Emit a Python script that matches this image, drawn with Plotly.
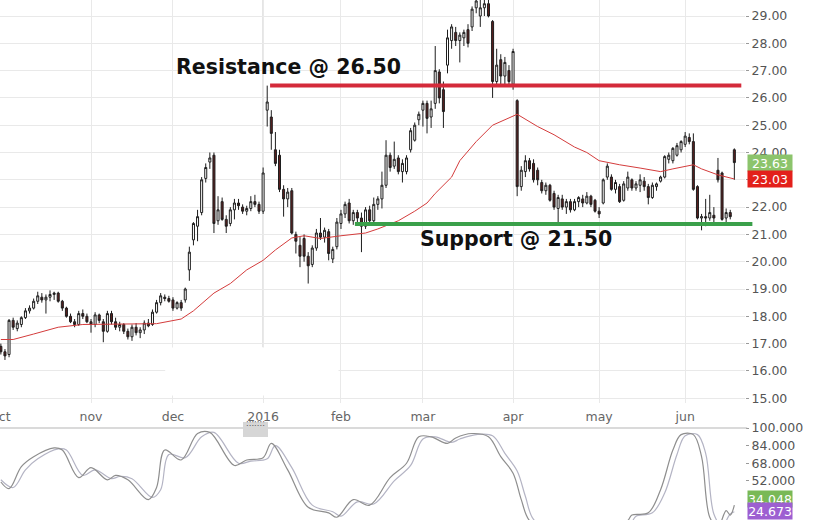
import plotly.graph_objects as go

# ---------------- data (trading-day index 0 = 1 Oct 2015) ----------------
open_ = [16.9, 16.7, 16.6, 17.85, 17.55, 17.7, 17.95, 18.2, 18.3, 18.55,
         18.7, 18.6, 18.7, 18.8, 18.85, 18.55, 18.3, 18.0, 17.8, 17.7,
         18.1, 18.0, 17.8, 17.7, 18.05, 17.8, 17.45, 18.1, 17.8, 17.6,
         17.7, 17.45, 17.25, 17.6, 17.4, 17.5, 17.75, 17.7, 18.15, 18.5,
         18.7, 18.65, 18.6, 18.3, 18.5, 18.6, 19.7, 20.8, 21.3, 21.8,
         23.05, 23.65, 23.9, 21.5, 22.2, 21.55, 21.4, 21.9, 22.15, 22.0,
         21.85, 21.95, 22.2, 22.1, 21.85, 25.55, 25.3, 24.1, 23.9, 22.65,
         22.3, 22.6, 21.0, 20.6, 20.85, 20.2, 19.9, 20.5, 21.05, 20.9,
         21.1, 20.1, 20.55, 21.4, 21.75, 22.15, 21.5, 21.8, 21.6, 21.3,
         21.9, 21.5, 22.1, 22.3, 22.8, 23.9, 23.5, 23.8, 23.3, 23.3,
         24.1, 24.45, 25.2, 25.55, 25.8, 25.3, 25.8, 26.95, 26.3, 27.2,
         28.1, 28.4, 28.1, 28.2, 28.5, 28.6, 29.3, 29.0, 29.3, 29.45,
         28.8, 26.6, 27.4, 26.8, 27.0, 26.5, 25.9, 22.75, 23.3, 23.7,
         23.6, 23.35, 22.9, 22.6, 22.8, 22.5, 21.95, 22.3, 22.0, 22.2,
         21.9, 22.2, 22.3, 22.15, 22.4, 22.25, 21.85, 22.15, 23.1, 23.1,
         22.65, 22.75, 22.25, 22.7, 23.0, 22.7, 22.8, 22.95, 22.75, 22.35,
         22.75, 22.95, 23.1, 23.75, 23.7, 23.9, 24.1, 24.3, 24.55, 24.4,
         22.75, 21.6, 21.65, 21.6, 21.7, 23.35, 23.25, 21.6, 21.8, 24.1]
high = [17.0, 16.8, 17.9, 17.95, 17.85, 18.0, 18.3, 18.4, 18.65, 18.9,
        18.85, 18.8, 18.95, 18.9, 18.9, 18.6, 18.35, 18.1, 17.9, 18.2,
        18.25, 18.1, 17.9, 18.15, 18.1, 17.9, 18.2, 18.2, 17.95, 17.8,
        17.75, 17.55, 17.7, 17.75, 17.6, 17.85, 17.9, 18.25, 18.6, 18.85,
        18.8, 18.75, 18.7, 18.55, 18.6, 19.05, 20.55, 21.45, 21.9, 23.1,
        23.6, 24.0, 24.0, 22.4, 22.35, 21.7, 22.0, 22.3, 22.3, 22.1,
        22.05, 22.4, 22.45, 22.2, 23.45, 26.45, 25.55, 24.75, 24.1, 22.8,
        22.7, 22.7, 21.1, 20.9, 21.0, 20.35, 20.6, 21.2, 21.6, 21.25,
        21.2, 20.55, 21.6, 21.9, 22.2, 22.3, 21.9, 21.9, 21.8, 22.0,
        22.05, 22.35, 22.4, 23.3, 24.45, 24.0, 24.4, 23.9, 23.75, 23.9,
        24.9, 25.1, 25.5, 25.9, 25.9, 25.9, 27.9, 27.05, 26.6, 28.5,
        28.7, 28.6, 28.4, 28.5, 28.7, 29.35, 29.7, 29.6, 29.6, 29.6,
        28.85, 27.8, 27.6, 27.5, 27.2, 27.8, 25.95, 23.5, 23.9, 23.8,
        23.75, 23.45, 23.0, 22.9, 22.85, 22.6, 22.45, 22.45, 22.3, 22.3,
        22.3, 22.4, 22.45, 22.55, 22.45, 22.3, 22.0, 23.05, 23.6, 23.2,
        23.0, 22.85, 22.95, 23.3, 23.05, 22.95, 23.2, 23.1, 22.85, 22.9,
        22.9, 23.15, 23.9, 24.0, 24.2, 24.35, 24.45, 24.75, 24.7, 24.7,
        22.8, 21.75, 22.3, 22.45, 22.0, 23.8, 23.3, 21.95, 21.9, 24.15]
low = [16.6, 16.4, 16.5, 17.5, 17.45, 17.6, 17.9, 18.1, 18.25, 18.45,
       18.5, 18.1, 18.55, 18.6, 18.5, 18.2, 17.95, 17.75, 17.6, 17.65,
       17.9, 17.75, 17.4, 17.6, 17.75, 17.05, 17.4, 17.7, 17.5, 17.45,
       17.35, 17.15, 17.1, 17.3, 17.2, 17.35, 17.6, 17.65, 18.1, 18.4,
       18.55, 18.5, 18.2, 18.25, 18.2, 18.5, 19.3, 20.6, 20.75, 21.7,
       22.9, 23.4, 21.05, 21.35, 21.5, 21.05, 21.3, 21.55, 21.9, 21.75,
       21.7, 21.85, 22.0, 21.75, 21.75, 24.95, 24.1, 23.5, 22.55, 21.65,
       22.0, 21.0, 20.3, 19.8, 20.0, 19.2, 19.8, 20.4, 20.8, 20.7,
       20.05, 19.95, 20.45, 21.2, 21.6, 21.4, 21.35, 21.45, 20.35, 21.2,
       21.35, 21.45, 21.9, 21.95, 22.7, 23.3, 23.4, 23.2, 22.9, 23.2,
       24.0, 24.4, 25.0, 24.95, 24.7, 24.9, 25.6, 25.8, 24.9, 26.9,
       27.8, 27.9, 27.3, 27.9, 27.85, 28.45, 29.1, 28.6, 29.0, 28.95,
       26.0, 26.4, 26.4, 26.5, 26.4, 26.3, 22.4, 22.6, 23.1, 23.3,
       22.9, 22.8, 22.5, 22.45, 22.2, 21.9, 21.45, 21.9, 21.75, 21.8,
       21.85, 22.0, 22.0, 22.1, 22.0, 21.8, 21.6, 22.1, 23.0, 22.6,
       22.5, 22.15, 22.2, 22.6, 22.6, 22.6, 22.55, 22.6, 22.1, 22.3,
       22.6, 22.9, 23.05, 23.6, 23.6, 23.85, 24.0, 24.2, 24.3, 22.6,
       21.55, 21.15, 21.3, 21.5, 21.45, 22.9, 21.5, 21.45, 21.55, 23.0]
close = [16.7, 16.55, 17.85, 17.6, 17.75, 17.95, 18.2, 18.3, 18.55, 18.75,
         18.6, 18.7, 18.8, 18.85, 18.55, 18.3, 18.0, 17.8, 17.7, 18.1,
         18.0, 17.8, 17.7, 18.05, 17.85, 17.45, 18.1, 17.8, 17.6, 17.7,
         17.45, 17.25, 17.6, 17.4, 17.5, 17.75, 17.65, 18.15, 18.5, 18.75,
         18.65, 18.55, 18.3, 18.5, 18.3, 19.0, 20.35, 21.4, 21.65, 23.0,
         23.45, 23.8, 21.4, 21.9, 21.55, 21.3, 21.9, 22.15, 22.05, 21.85,
         21.95, 22.2, 22.1, 21.85, 23.25, 25.85, 24.7, 23.6, 22.65, 22.3,
         22.55, 21.05, 20.75, 20.2, 20.2, 19.85, 20.5, 21.05, 20.9, 21.15,
         20.3, 20.45, 21.45, 21.75, 22.1, 21.5, 21.8, 21.6, 21.3, 21.9,
         21.5, 22.1, 22.3, 22.8, 23.9, 23.45, 23.75, 23.3, 23.6, 23.8,
         24.8, 25.0, 25.4, 25.8, 25.25, 25.6, 27.0, 26.0, 25.5, 28.2,
         28.6, 28.1, 28.3, 28.4, 28.0, 29.25, 29.55, 29.3, 29.45, 29.0,
         26.6, 27.2, 26.8, 27.3, 26.6, 27.7, 22.75, 23.35, 23.7, 23.4,
         23.0, 23.0, 22.6, 22.8, 22.25, 22.0, 22.35, 22.0, 22.2, 21.9,
         22.2, 22.35, 22.15, 22.4, 22.1, 21.85, 21.75, 23.0, 23.5, 22.65,
         22.9, 22.2, 22.85, 23.1, 22.7, 22.85, 23.0, 22.75, 22.35, 22.8,
         22.85, 23.1, 23.85, 23.9, 24.15, 24.25, 24.4, 24.6, 24.4, 22.65,
         21.6, 21.65, 21.6, 21.8, 21.6, 23.0, 21.55, 21.8, 21.65, 23.63]
bar_index = list(range(len(close)))

month_ticks = [0, 22, 42, 64, 83, 103, 125, 146, 167]
month_labels = ["oct", "nov", "dec", "2016", "feb", "mar", "apr", "may", "jun"]

ma_idx = [0, 3, 8, 14, 20, 30, 38, 44, 47, 52, 56, 60, 64, 67, 71, 74, 78, 83,
          89, 92, 97, 101, 104, 106, 110, 112, 116, 120, 126, 131, 135, 140,
          143, 146, 151, 156, 161, 164, 169, 171, 175, 179]
ma_val = [17.15, 17.15, 17.35, 17.6, 17.7, 17.72, 17.73, 17.9, 18.2, 18.85,
          19.2, 19.7, 20.05, 20.43, 20.87, 20.95, 20.85, 20.95, 21.05, 21.2,
          21.5, 21.85, 22.15, 22.5, 23.1, 23.7, 24.4, 25.0, 25.4, 24.95,
          24.65, 24.2, 24.0, 23.7, 23.55, 23.43, 23.3, 23.4, 23.55, 23.4,
          23.18, 23.03]

stoch_k_idx = [0, 2, 5, 8, 13, 15, 19, 22, 26, 28, 31, 36, 38, 40, 44, 48, 51,
               57, 60, 64, 66, 70, 75, 80, 82, 86, 90, 95, 99, 102, 105, 109,
               111, 115, 119, 122, 125, 127, 129, 134, 142, 150, 153, 154, 158,
               161, 164, 166, 169, 171, 173, 175, 177, 178, 179]
stoch_k_val = [51, 45, 65, 74, 82, 80, 55, 64, 53, 57, 53, 35, 46, 80, 71, 95,
               96, 66, 71, 73, 86, 62, 28, 23, 19, 35, 30, 55, 68, 92, 92, 86,
               91, 95, 92, 74, 59, 35, 16, 5, 3, 8, 16, 21, 23, 44, 80, 94, 94,
               74, 19, 10, 25, 21, 30]
stoch_d_idx = [0, 3, 6, 9, 14, 16, 20, 23, 27, 29, 32, 37, 39, 41, 45, 49, 52,
               58, 61, 65, 67, 71, 76, 81, 83, 87, 91, 96, 100, 103, 106, 110,
               112, 116, 120, 123, 126, 128, 130, 135, 143, 151, 154, 155, 159,
               162, 165, 167, 170, 172, 174, 176, 178, 179]
stoch_d_val = [53, 46, 62, 72, 81, 80, 57, 62, 54, 56, 54, 37, 44, 76, 73, 92,
               96, 68, 70, 72, 84, 64, 30, 24, 20, 33, 31, 52, 66, 90, 92, 87,
               90, 94, 93, 77, 61, 38, 17, 5, 3, 8, 15, 20, 23, 41, 76, 93, 94,
               77, 22, 11, 22, 24]

price_ticks = list(range(15, 30))
stoch_ticks = [52, 68, 84, 100]

resistance_level = 26.45
resistance_span = (65.7, 180.7)
support_level = 21.38
support_span = (86.4, 183.4)
last_close = 23.63
last_ma = 23.03
stoch_k_last = 24.673
stoch_d_last = 34.048

# ---------------- figure ----------------
W, H = 827, 520
XR = [-0.21, 181.6]
FONT = "DejaVu Sans"
GRID = "#e9e9e9"

fig = go.Figure()

fig.add_trace(go.Candlestick(
    x=bar_index, open=open_, high=high, low=low, close=close,
    increasing=dict(line=dict(color="#1e1e1e", width=1), fillcolor="#ffffff"),
    decreasing=dict(line=dict(color="#1e1e1e", width=1), fillcolor="#5a1f1f"),
    whiskerwidth=0, xaxis="x", yaxis="y", showlegend=False, hoverinfo="skip"))

fig.add_trace(go.Scatter(x=ma_idx, y=ma_val, mode="lines",
                         line=dict(color="#d43c3c", width=1),
                         xaxis="x", yaxis="y", showlegend=False, hoverinfo="skip"))

fig.add_trace(go.Scatter(x=stoch_d_idx, y=stoch_d_val, mode="lines",
                         line=dict(color="#b4b4c4", width=1.2, shape="spline"),
                         xaxis="x2", yaxis="y2", showlegend=False, hoverinfo="skip"))
fig.add_trace(go.Scatter(x=stoch_k_idx, y=stoch_k_val, mode="lines",
                         line=dict(color="#8e8e8e", width=1.2, shape="spline"),
                         xaxis="x2", yaxis="y2", showlegend=False, hoverinfo="skip"))


def dom(i):
    return (i - XR[0]) / (XR[1] - XR[0])


shapes = [
    # erased patch of the grid (as in the source image)
    dict(type="rect", xref="x", yref="y", x0=40.1, x1=82.4, y0=15.1, y1=16.86,
         fillcolor="white", line=dict(width=0), layer="above"),
    # year separator
    dict(type="line", xref="x", yref="y", x0=64, x1=64, y0=16.86, y1=29.6,
         line=dict(color="#d6d6d6", width=1.5), layer="below"),
    # resistance & support
    dict(type="line", xref="x", yref="y", x0=resistance_span[0], x1=resistance_span[1],
         y0=resistance_level, y1=resistance_level,
         line=dict(color="#d42a3a", width=4)),
    dict(type="line", xref="x domain", yref="y", x0=dom(support_span[0]), x1=dom(support_span[1]),
         y0=support_level, y1=support_level,
         line=dict(color="#3aa04a", width=4)),
    # separator between panels
    dict(type="line", xref="paper", yref="paper", x0=0, x1=1.003, y0=0.1769, y1=0.1769,
         line=dict(color="#b5b5b5", width=1)),
    # navigator grip
    dict(type="rect", xref="paper", yref="paper", x0=0.3262, x1=0.3597, y0=0.1596, y1=0.1885,
         fillcolor="#d6d6d6", line=dict(width=0)),
]

annotations = [
    dict(text="<b>Resistance @ 26.50</b>", x=70.1, y=27.13, xref="x", yref="y",
         showarrow=False, font=dict(family=FONT, size=20.5, color="#111111")),
    dict(text="<b>Support @ 21.50</b>", x=125.7, y=20.83, xref="x", yref="y",
         showarrow=False, font=dict(family=FONT, size=20.5, color="#111111")),
    dict(text=":::::::", x=0.343, y=0.174, xref="paper", yref="paper", showarrow=False,
         font=dict(family=FONT, size=8, color="#555555")),
]
for val, txt, col, yref in [
    (last_close, f"{last_close:.2f}", "#8cc46c", "y"),
    (last_ma, f"{last_ma:.2f}", "#e3201b", "y"),
    (36.0, f"{stoch_d_last:.3f}", "#79b956", "y2"),
    (stoch_k_last, f"{stoch_k_last:.3f}", "#9d5fd1", "y2"),
]:
    annotations.append(dict(text=txt, x=1.003, y=val, xref="paper", yref=yref,
                            xanchor="left", yanchor="middle", showarrow=False,
                            width=44, height=16, bgcolor=col, borderpad=0,
                            font=dict(family=FONT, size=12.5, color="white")))

fig.update_layout(
    width=W, height=H, autosize=False,
    margin=dict(l=0, r=82, t=0, b=0, pad=0),
    paper_bgcolor="white", plot_bgcolor="white",
    font=dict(family=FONT, size=12.5, color="#555555"),
    xaxis=dict(domain=[0, 1], range=XR, anchor="y", tickmode="array", automargin=False,
               tickvals=month_ticks, ticktext=month_labels, showgrid=True,
               gridcolor=GRID, zeroline=False, showline=False, ticks="",
               ticklabeloverflow="allow",
               ticklabelstandoff=4, tickfont=dict(family=FONT, size=12.5, color="#666666"),
               rangeslider=dict(visible=False)),
    yaxis=dict(domain=[0.225, 1], range=[14.824, 29.586], side="right", anchor="x",
               tickmode="array", tickvals=price_ticks, tickformat=".2f", automargin=False,
               showgrid=True, gridcolor=GRID, zeroline=False, showline=False,
               ticks="outside", ticklen=3, tickcolor="#9a9a9a",
               tickfont=dict(family=FONT, size=12.5, color="#555555")),
    xaxis2=dict(domain=[0, 1], range=XR, anchor="y2", showticklabels=False, automargin=False,
                showgrid=False, zeroline=False, showline=False, ticks=""),
    yaxis2=dict(domain=[0, 0.1769], range=[16.5, 100], side="right", anchor="x2",
                tickmode="array", tickvals=stoch_ticks, tickformat=".3f", automargin=False,
                showgrid=False, zeroline=False, showline=False,
                ticks="outside", ticklen=3, tickcolor="#9a9a9a",
                tickfont=dict(family=FONT, size=12.5, color="#555555")),
    shapes=shapes, annotations=annotations, hovermode=False,
)

fig.write_html("out.html", config={"displayModeBar": False},
               post_script="document.body.style.margin='0';document.body.style.overflow='hidden';")
